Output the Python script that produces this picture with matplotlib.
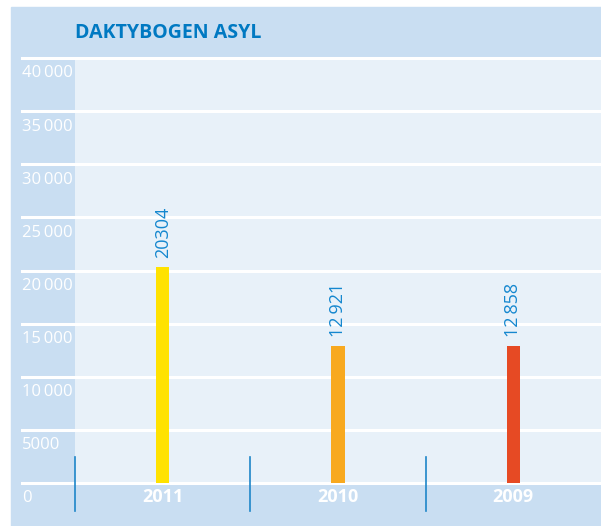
import matplotlib
matplotlib.use("Agg")
import matplotlib.pyplot as plt
from matplotlib.patches import Rectangle
from matplotlib.transforms import blended_transform_factory

categories = ["2011", "2010", "2009"]
values = [20304, 12921, 12858]
value_labels = ["20304", "12\u2009921", "12\u2009858"]
bar_colors = ["#ffe200", "#f8a91f", "#e64a24"]
yticks = [0, 5000, 10000, 15000, 20000, 25000, 30000, 35000, 40000]
ytick_labels = ["0", "5000", "10\u2009000", "15\u2009000", "20\u2009000", "25\u2009000",
                "30\u2009000", "35\u2009000", "40\u2009000"]
title = "DAKTYBOGEN ASYL"

W, H = 601, 526
fig = plt.figure(figsize=(W / 100, H / 100), dpi=100)
plt.rcParams['font.family'] = ['Open Sans', 'DejaVu Sans']

panel = "#c9def2"
inner = "#e8f1f9"

# outer panel
fig.patches.append(Rectangle((11 / W, 0), (W - 11) / W, (H - 7) / H,
                             transform=fig.transFigure, color=panel, zorder=-10))

left, right, top, bottom = 75, 601, 58, 483
ax = fig.add_axes([left / W, 1 - bottom / H, (right - left) / W, (bottom - top) / H])
ax.set_zorder(1)
ax.set_facecolor(inner)
ax.set_xlim(0, 3)
ax.set_ylim(0, 40000)
for s in ax.spines.values():
    s.set_visible(False)
ax.set_xticks([])
ax.set_yticks([])

# gridlines extending to the left edge area
tr = blended_transform_factory(fig.transFigure, ax.transData)
for yv, lab in zip(yticks, ytick_labels):
    ax.plot([22 / W, 1.0], [yv, yv], transform=tr, color="white", lw=2.2,
            clip_on=False, zorder=1)
    ax.text(22 / W, yv - 1450, lab, transform=tr, color="white", fontsize=12,
            ha="left", va="center", zorder=3)

x = [i + 0.5 for i in range(len(categories))]
ax.bar(x, values, width=0.075, color=bar_colors, zorder=2)

for xi, v, lab, cat in zip(x, values, value_labels, categories):
    ax.text(xi, v + 850, lab, rotation=90, ha="center", va="bottom",
            color="#1487cf", fontsize=13, zorder=3)
    ax.text(xi, -1350, cat, ha="center", va="center",
            color="white", fontsize=13, fontweight="bold", clip_on=False, zorder=3)

# category separators
for xs in [0, 1, 2]:
    ax.plot([xs, xs], [2450, -2650], color="#1e86c8", lw=1.2, clip_on=False, zorder=3)

fig.text(75 / W, 1 - 33 / H, title, color="#0079c2", fontsize=14,
         fontweight="bold", ha="left", va="center")

fig.savefig("out.png", dpi=100)
